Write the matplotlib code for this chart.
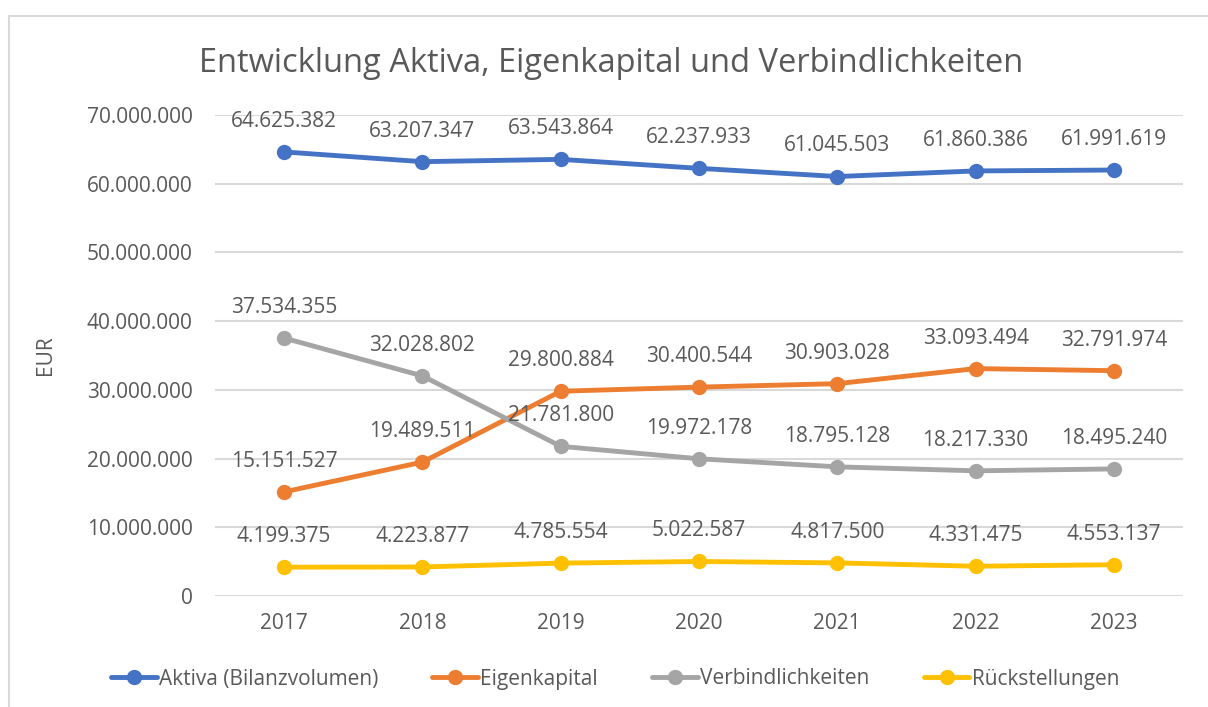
import numpy as np
import matplotlib
matplotlib.use("Agg")
import matplotlib.pyplot as plt
from matplotlib.patches import Rectangle

plt.rcParams['font.family'] = ['Open Sans', 'DejaVu Sans']

years = ['2017', '2018', '2019', '2020', '2021', '2022', '2023']
aktiva = [64625382, 63207347, 63543864, 62237933, 61045503, 61860386, 61991619]
eigenkapital = [15151527, 19489511, 29800884, 30400544, 30903028, 33093494, 32791974]
verbindlichkeiten = [37534355, 32028802, 21781800, 19972178, 18795128, 18217330, 18495240]
rueckstellungen = [4199375, 4223877, 4785554, 5022587, 4817500, 4331475, 4553137]

names = ['Aktiva (Bilanzvolumen)', 'Eigenkapital', 'Verbindlichkeiten', 'Rückstellungen']
colors = ['#4472C4', '#ED7D31', '#A5A5A5', '#FFC000']
txt = '#595959'


def de_fmt(v):
    return f"{int(v):,}".replace(",", ".")


fig = plt.figure(figsize=(12.08, 7.07), dpi=100)
fig.patches.append(Rectangle((9 / 1208, -0.1), 1.2, 1.1 - 16 / 707,
                             transform=fig.transFigure, fill=False,
                             edgecolor='#D9D9D9', linewidth=1.5))
ax = fig.add_axes([215 / 1208, 111 / 707, 968 / 1208, 481 / 707])

x = np.arange(len(years))
for vals, name, c in zip([aktiva, eigenkapital, verbindlichkeiten, rueckstellungen], names, colors):
    ax.plot(x, vals, color=c, linewidth=3.5, marker='o', markersize=10,
            solid_capstyle='round', label=name, zorder=3)
    for xi, v in zip(x, vals):
        ax.annotate(de_fmt(v), (xi, v), xytext=(0, 22), textcoords='offset points',
                    ha='center', va='center', fontsize=15, color=txt, zorder=4)

ax.set_xlim(-0.5, len(years) - 0.5)
ax.set_ylim(0, 70000000)
ax.set_yticks(np.arange(0, 70000001, 10000000))
ax.set_yticklabels([de_fmt(v) for v in np.arange(0, 70000001, 10000000)])
ax.set_xticks(x)
ax.set_xticklabels(years)
ax.tick_params(axis='both', length=0, labelsize=15, labelcolor=txt)
ax.tick_params(axis='y', pad=16)
ax.tick_params(axis='x', pad=12)
ax.grid(axis='y', color='#D9D9D9', linewidth=1.5, zorder=0)
for s in ax.spines.values():
    s.set_visible(False)
ax.set_ylabel('EUR', fontsize=15, color=txt, labelpad=22)

fig.suptitle('Entwicklung Aktiva, Eigenkapital und Verbindlichkeiten',
             x=611 / 1208, y=1 - 64 / 707, va='center', fontsize=23.5, color=txt)

fig.legend(loc='center', bbox_to_anchor=(615 / 1208, 28 / 707), ncol=4,
           frameon=False, fontsize=15, labelcolor=txt, handlelength=2.2,
           handletextpad=0.1, columnspacing=2.6)

fig.savefig('out.png', dpi=100)
